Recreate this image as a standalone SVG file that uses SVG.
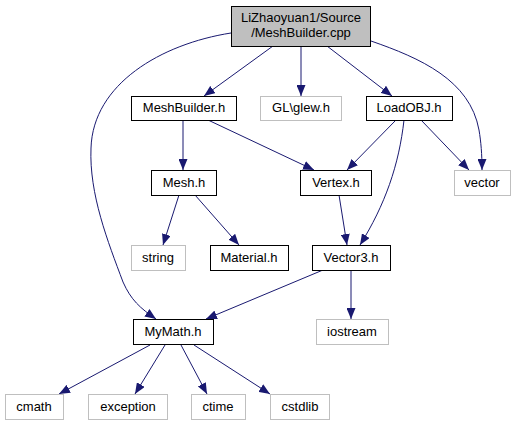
<svg xmlns="http://www.w3.org/2000/svg" width="516" height="425" viewBox="0 0 516 425">
<defs>
<style>
.n rect{fill:#fff;stroke:#000;stroke-width:1}
.s rect{fill:#fff;stroke:#bfbfbf;stroke-width:1}
#root rect{fill:#bfbfbf;stroke:#000}
text{font-family:"Liberation Sans",Arial,sans-serif;font-size:13px;text-anchor:middle;fill:#000}
#edges path{fill:none;stroke:#191970;stroke-width:1;marker-end:url(#ah)}
</style>
<marker id="ah" markerUnits="userSpaceOnUse" markerWidth="11" markerHeight="9" refX="11" refY="4.5" orient="auto">
<path d="M0,0 L11,4.5 L0,9 z" fill="#191970"/>
</marker>
</defs>
<rect width="516" height="425" fill="#fff"/>
<g id="edges">
<path d="M273,46 L204,96"/>
<path d="M301,46 L301,96"/>
<path d="M327,46 L392,96"/>
<path d="M231,33 C161,44 93,84 91,148 C89,194 108,242 123,282 C131,300 140,308 156,319"/>
<path d="M371,41 C420,58 470,80 479,130 C481,142 482,154 482,170"/>
<path d="M183,120 L183,170"/>
<path d="M208,120 L314,170"/>
<path d="M396,120 L347,170"/>
<path d="M404,120 C399,165 385,205 360,245"/>
<path d="M421,120 L469,170"/>
<path d="M339,195 L347,245"/>
<path d="M179,195 L163,245"/>
<path d="M195,195 L239,245"/>
<path d="M323,270 L206,319"/>
<path d="M351,270 L351,319"/>
<path d="M150,345 L59,394"/>
<path d="M165,345 L135,394"/>
<path d="M181,345 L207,394"/>
<path d="M194,345 L270,394"/>
</g>
<g id="root" class="n"><rect x="231.5" y="6.5" width="139" height="40"/><text x="301" y="22">LiZhaoyuan1/Source</text><text x="301" y="37">/MeshBuilder.cpp</text></g>
<g id="meshbuilder_h" class="n"><rect x="131.5" y="96.5" width="105" height="24"/><text x="184" y="112">MeshBuilder.h</text></g>
<g id="glew_h" class="s"><rect x="260.5" y="96.5" width="81" height="24"/><text x="301" y="112">GL\glew.h</text></g>
<g id="loadobj_h" class="n"><rect x="366.5" y="96.5" width="86" height="24"/><text x="409" y="112">LoadOBJ.h</text></g>
<g id="mesh_h" class="n"><rect x="151.5" y="170.5" width="65" height="25"/><text x="184" y="187">Mesh.h</text></g>
<g id="vertex_h" class="n"><rect x="300.5" y="170.5" width="71" height="25"/><text x="336" y="187">Vertex.h</text></g>
<g id="vector" class="s"><rect x="454.5" y="170.5" width="56" height="25"/><text x="482" y="187">vector</text></g>
<g id="string" class="s"><rect x="131.5" y="245.5" width="54" height="25"/><text x="158" y="262">string</text></g>
<g id="material_h" class="n"><rect x="210.5" y="245.5" width="78" height="25"/><text x="249" y="262">Material.h</text></g>
<g id="vector3_h" class="n"><rect x="312.5" y="245.5" width="78" height="25"/><text x="351" y="262">Vector3.h</text></g>
<g id="mymath_h" class="n"><rect x="133.5" y="319.5" width="80" height="25"/><text x="173" y="336">MyMath.h</text></g>
<g id="iostream" class="s"><rect x="316.5" y="319.5" width="72" height="25"/><text x="352" y="336">iostream</text></g>
<g id="cmath" class="s"><rect x="5.5" y="394.5" width="58" height="25"/><text x="34" y="411">cmath</text></g>
<g id="exception" class="s"><rect x="88.5" y="394.5" width="79" height="25"/><text x="128" y="411">exception</text></g>
<g id="ctime" class="s"><rect x="191.5" y="394.5" width="54" height="25"/><text x="218" y="411">ctime</text></g>
<g id="cstdlib" class="s"><rect x="270.5" y="394.5" width="59" height="25"/><text x="300" y="411">cstdlib</text></g>
</svg>
